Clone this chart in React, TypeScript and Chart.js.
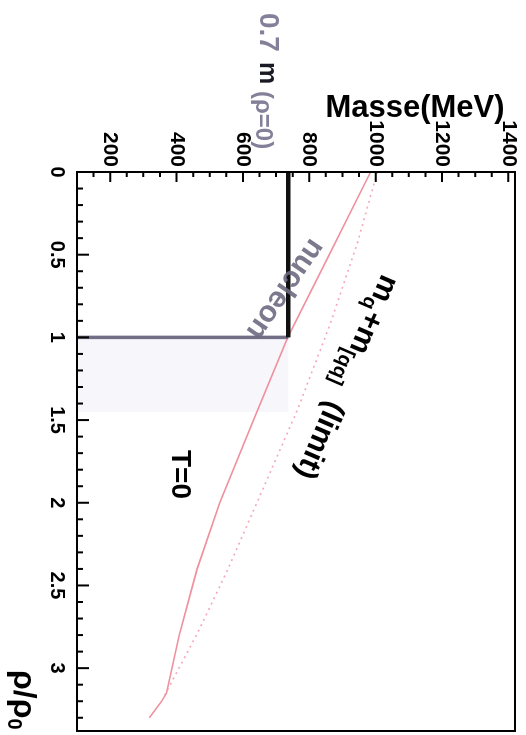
import React, { useEffect, useRef } from 'react';
import { Chart, registerables } from 'chart.js';

Chart.register(...registerables);

// ---- data (unrotated frame: x = rho/rho0, y = mass in MeV) ----
const rhoTicks = [0, 0.5, 1, 1.5, 2, 2.5, 3];
const massTicks = [200, 400, 600, 800, 1000, 1200, 1400];

// m_q + m_[qq] (limit) solid curve
const limitRho = [0, 0.5, 1.0, 1.5, 2.0, 2.4, 2.8, 3.15, 3.2, 3.3];
const limitMass = [985, 860, 735, 632, 530, 462, 408, 370, 355, 318];

// dotted companion curve
const dottedRho = [0, 0.43, 0.92, 1.44, 2.41, 2.78, 3.18];
const dottedMass = [1005, 945, 863, 764, 553, 465, 360];

// nucleon: 0.7 m(rho=0) up to rho0, then drop
const nucleonTopRho = [0, 1];
const nucleonTopMass = [737, 737];
const nucleonDropRho = [1, 1];
const nucleonDropMass = [737, 100];

// faint shaded band (scan background)
const bandRho = [1, 1.45];
const bandMass = [100, 737];

const FONT = '"Liberation Sans", Arial, Helvetica, sans-serif';
const W = 735;
const H = 526;

const pts = (xs: number[], ys: number[]) => xs.map((x, i) => ({ x, y: ys[i] }));

function rich(ctx: CanvasRenderingContext2D, x: number, y: number, angle: number,
  parts: { t: string; font: string; color: string; dy?: number }[]) {
  ctx.save();
  ctx.translate(x, y);
  ctx.rotate(angle);
  ctx.textAlign = 'left';
  ctx.textBaseline = 'alphabetic';
  let cx = 0;
  for (const p of parts) {
    ctx.font = p.font;
    ctx.fillStyle = p.color;
    ctx.fillText(p.t, cx, p.dy || 0);
    cx += ctx.measureText(p.t).width;
  }
  ctx.restore();
}

const overlay = {
  id: 'overlay',
  beforeDatasetsDraw(chart: any) {
    const { ctx, scales: { x, y } } = chart;
    ctx.save();
    ctx.fillStyle = 'rgba(236,235,246,0.45)';
    const x0 = x.getPixelForValue(bandRho[0]);
    const x1 = x.getPixelForValue(bandRho[1]);
    const y0 = y.getPixelForValue(bandMass[1]);
    const y1 = y.getPixelForValue(bandMass[0]);
    ctx.fillRect(x0, y0, x1 - x0, y1 - y0);
    ctx.restore();
  },
  afterDatasetsDraw(chart: any) {
    const { ctx, chartArea: a, scales: { x, y } } = chart;
    ctx.save();
    ctx.strokeStyle = '#000';
    ctx.lineWidth = 2;
    ctx.strokeRect(a.left, a.top, a.right - a.left, a.bottom - a.top);
    ctx.beginPath();
    for (let i = 0; i <= 33; i++) {
      const px = x.getPixelForValue(i / 10);
      const len = i % 5 === 0 ? 12 : 6;
      ctx.moveTo(px, a.bottom);
      ctx.lineTo(px, a.bottom - len);
    }
    for (let m = 150; m <= 1400; m += 50) {
      const py = y.getPixelForValue(m);
      const len = m % 200 === 0 ? 10 : 5;
      ctx.moveTo(a.left, py);
      ctx.lineTo(a.left + len, py);
    }
    ctx.stroke();

    // axis title Masse(MeV)
    ctx.save();
    ctx.translate(108, 111);
    ctx.rotate(-Math.PI / 2);
    ctx.font = `bold 31px ${FONT}`;
    ctx.fillStyle = '#000';
    ctx.textAlign = 'center';
    ctx.textBaseline = 'middle';
    ctx.fillText('Masse(MeV)', 0, 0);
    ctx.restore();

    // 0.7 m(rho=0)
    ctx.textAlign = 'left';
    ctx.textBaseline = 'alphabetic';
    ctx.font = `bold 28px ${FONT}`;
    ctx.fillStyle = '#85809a';
    ctx.fillText('0.7', 13, 266);
    ctx.font = `bold 25px ${FONT}`;
    ctx.fillStyle = '#1a1a24';
    ctx.fillText('m', 62, 266);
    ctx.font = `bold 24px ${FONT}`;
    ctx.fillStyle = '#85809a';
    ctx.fillText('(ρ=0)', 91, 270);

    // nucleon
    ctx.save();
    ctx.translate(289, 241);
    ctx.rotate(0.602);
    ctx.font = `bold 30px ${FONT}`;
    ctx.fillStyle = 'rgba(110,105,130,0.9)';
    ctx.textAlign = 'center';
    ctx.textBaseline = 'middle';
    ctx.fillText('nucleon', 0, 0);
    ctx.restore();

    // m_q + m_[qq] (limit)
    rich(ctx, 273, 144, 0.407, [
      { t: 'm', font: `bold 30px ${FONT}`, color: '#000' },
      { t: 'q', font: `bold 20px ${FONT}`, color: '#000', dy: 6 },
      { t: '+', font: `bold 30px ${FONT}`, color: '#000' },
      { t: 'm', font: `bold 30px ${FONT}`, color: '#000' },
      { t: '[qq]', font: `bold 20px ${FONT}`, color: '#000', dy: 6 },
      { t: '  (limit)', font: `bold 30px ${FONT}`, color: '#000' },
    ]);

    // T=0
    ctx.font = `bold 28px ${FONT}`;
    ctx.fillStyle = '#000';
    ctx.textAlign = 'left';
    ctx.textBaseline = 'alphabetic';
    ctx.fillText('T=0', 450, 354);

    // rho/rho0
    rich(ctx, 670, 512, 0, [
      { t: 'ρ/ρ', font: `bold 32px ${FONT}`, color: '#000' },
      { t: '0', font: `bold 20px ${FONT}`, color: '#000', dy: 6 },
    ]);
    ctx.restore();
  },
};

export default function App() {
  const ref = useRef<HTMLCanvasElement | null>(null);

  useEffect(() => {
    if (!ref.current) return;
    const chart = new Chart(ref.current, {
      type: 'line',
      data: {
        datasets: [
          {
            data: pts(nucleonTopRho, nucleonTopMass),
            borderColor: '#111',
            borderWidth: 4.5,
            pointRadius: 0,
          },
          {
            data: pts(nucleonDropRho, nucleonDropMass),
            borderColor: '#726e86',
            borderWidth: 3.5,
            pointRadius: 0,
          },
          {
            data: pts(limitRho, limitMass),
            borderColor: '#f0909f',
            borderWidth: 1.6,
            pointRadius: 0,
          },
          {
            data: pts(dottedRho, dottedMass),
            borderColor: 'rgba(240,140,160,0.75)',
            borderWidth: 1.6,
            borderDash: [2, 4],
            pointRadius: 0,
          },
        ],
      },
      options: {
        responsive: false,
        animation: false,
        events: [],
        layout: { padding: { top: 11, right: 4, left: 0, bottom: 0 } },
        plugins: { legend: { display: false }, tooltip: { enabled: false } },
        scales: {
          x: {
            type: 'linear',
            min: 0,
            max: 3.38,
            grid: { display: false, drawTicks: false },
            border: { display: false },
            afterBuildTicks: (s: any) => { s.ticks = rhoTicks.map((v) => ({ value: v })); },
            afterFit: (s: any) => {
              s.height = 77;
              s.paddingLeft = 0; s.paddingRight = 0; s.paddingTop = 0; s.paddingBottom = 0;
            },
            ticks: {
              autoSkip: false,
              maxRotation: 0,
              minRotation: 0,
              padding: 8,
              color: '#000',
              font: { family: FONT, size: 20, weight: 'bold' },
              callback: (v: any) => String(v),
            },
          },
          y: {
            type: 'linear',
            min: 100,
            max: 1420,
            grid: { display: false, drawTicks: false },
            border: { display: false },
            afterBuildTicks: (s: any) => { s.ticks = massTicks.map((v) => ({ value: v })); },
            afterFit: (s: any) => {
              s.width = 172;
              s.paddingLeft = 0; s.paddingRight = 0; s.paddingTop = 0; s.paddingBottom = 0;
            },
            ticks: {
              autoSkip: false,
              padding: 5,
              color: '#000',
              font: { family: FONT, size: 21, weight: 'bold' },
              callback: (v: any) => String(v),
            },
          },
        },
      },
      plugins: [overlay],
    } as any);
    return () => chart.destroy();
  }, []);

  return (
    <div
      style={{
        position: 'fixed',
        left: 0,
        top: 0,
        width: W,
        height: H,
        background: '#fff',
        transformOrigin: '0 0',
        transform: `translateX(${H}px) rotate(90deg)`,
      }}
    >
      <canvas ref={ref} width={W} height={H} style={{ display: 'block' }} />
    </div>
  );
}
